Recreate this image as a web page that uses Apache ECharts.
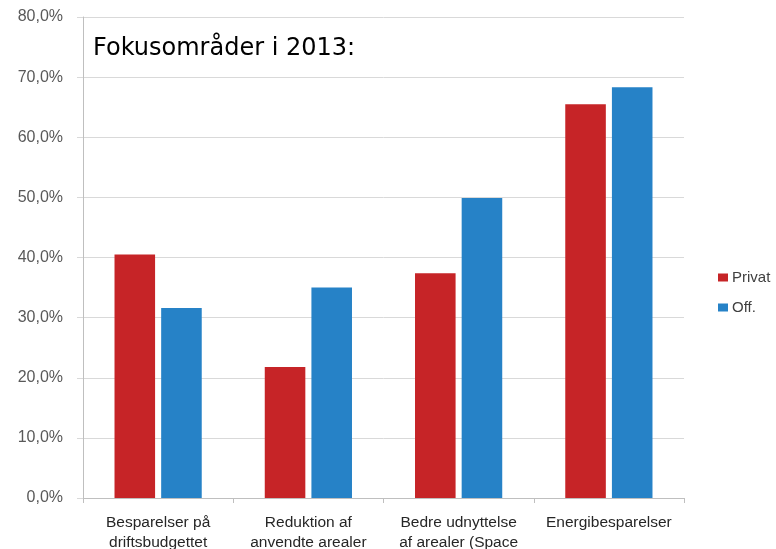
<!DOCTYPE html>
<html>
<head>
<meta charset="utf-8">
<script src="https://cdn.jsdelivr.net/npm/echarts@6/dist/echarts.min.js"></script>
<style>
  html, body { margin: 0; padding: 0; background: #ffffff; }
  #focus { width: 776px; height: 549px; }
</style>
</head>
<body>
<div id="focus"></div>
<script>
// Fokusområder i 2013 - andel pr. sektor
const categories = [
  "Besparelser på\ndriftsbudgettet",
  "Reduktion af\nanvendte arealer",
  "Bedre udnyttelse\naf arealer (Space",
  "Energibesparelser"
];
const privatValues = [40.5, 21.8, 37.4, 65.5];
const offValues = [31.6, 35.0, 49.9, 68.3];
const seriesNames = ["Privat", "Off."];

const chart = echarts.init(document.getElementById("focus"));
chart.setOption({
  animation: false,
  title: {
    text: "Fokusområder i 2013:",
    left: 88,
    top: 32,
    textStyle: {
      color: "#000000",
      fontFamily: "DejaVu Sans",
      fontSize: 24,
      fontWeight: "normal"
    }
  },
  legend: {
    data: seriesNames,
    orient: "vertical",
    left: 713,
    top: 265,
    itemWidth: 10,
    itemHeight: 8,
    itemGap: 15,
    icon: "rect",
    textStyle: {
      color: "#404040",
      fontFamily: "Liberation Sans",
      fontSize: 15,
      padding: [0, 0, 0, -1]
    }
  },
  grid: {
    left: 83,
    right: 92,
    top: 17,
    bottom: 51,
    outerBoundsMode: "none"
  },
  xAxis: {
    type: "category",
    data: categories,
    axisLine: { show: true, lineStyle: { color: "#bfbfbf" } },
    axisTick: { show: true, length: 5, lineStyle: { color: "#bfbfbf" } },
    axisLabel: {
      interval: 0,
      hideOverlap: false,
      color: "#262626",
      fontFamily: "Liberation Sans",
      fontSize: 15.5,
      lineHeight: 20,
      margin: 15
    }
  },
  yAxis: {
    type: "value",
    min: 0,
    max: 80,
    interval: 10,
    axisLine: { show: true, lineStyle: { color: "#bfbfbf" } },
    axisTick: { show: true, length: 6, lineStyle: { color: "#d9d9d9" } },
    splitLine: { show: true, lineStyle: { color: "#d9d9d9", width: 1 } },
    axisLabel: {
      color: "#595959",
      fontFamily: "Liberation Sans",
      fontSize: 16,
      margin: 20,
      formatter: function (v) {
        return v.toFixed(1).replace(".", ",") + "%";
      }
    }
  },
  series: [
    {
      name: seriesNames[0],
      type: "bar",
      data: privatValues,
      barWidth: "27%",
      barGap: "15%",
      itemStyle: { color: "#c62427" }
    },
    {
      name: seriesNames[1],
      type: "bar",
      data: offValues,
      barWidth: "27%",
      itemStyle: { color: "#2682c7" }
    }
  ]
});
</script>
</body>
</html>
